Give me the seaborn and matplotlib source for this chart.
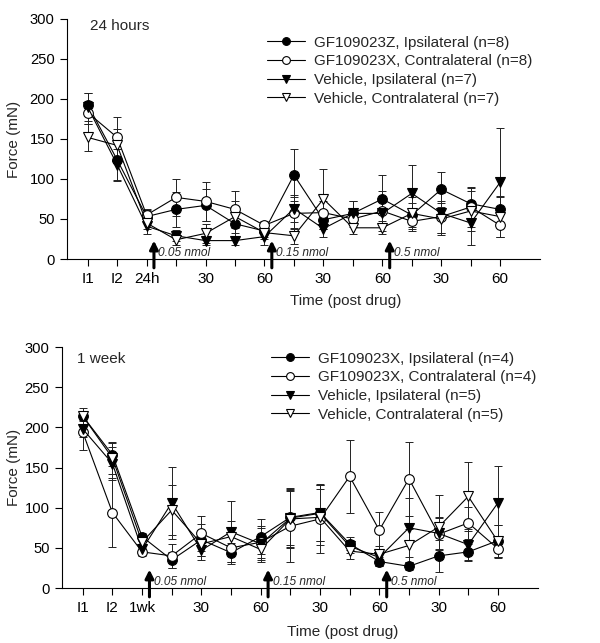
import matplotlib
matplotlib.use("Agg")
import matplotlib.pyplot as plt
import seaborn as sns
import pandas as pd
import numpy as np

# ---------------- data ----------------
x_index = list(range(15))
ticks_top = ["I1", "I2", "24h", "", "30", "", "60", "", "30", "", "60", "", "30", "", "60"]
ticks_bot = ["I1", "I2", "1wk", "", "30", "", "60", "", "30", "", "60", "", "30", "", "60"]

labels_top = ["GF109023Z, Ipsilateral (n=8)", "GF109023X, Contralateral (n=8)",
              "Vehicle, Ipsilateral (n=7)", "Vehicle, Contralateral (n=7)"]
labels_bot = ["GF109023X, Ipsilateral (n=4)", "GF109023X, Contralateral (n=4)",
              "Vehicle, Ipsilateral (n=5)", "Vehicle, Contralateral (n=5)"]

gf_ipsi_24h = [193, 124, 53, 62, 67, 44, 35, 105, 49, 57, 75, 55, 87, 69, 62]
gf_contra_24h = [183, 152, 55, 77, 72, 62, 42, 57, 58, 50, 60, 47, 53, 65, 42]
veh_ipsi_24h = [190, 118, 41, 29, 23, 23, 28, 63, 38, 57, 57, 82, 57, 45, 96]
veh_contra_24h = [152, 142, 45, 24, 32, 53, 33, 29, 75, 39, 39, 57, 50, 60, 53]

gf_ipsi_24h_err = [14, 25, 8, 22, 20, 15, 8, 32, 12, 15, 30, 15, 22, 20, 17]
gf_contra_24h_err = [14, 25, 7, 23, 24, 23, 5, 20, 15, 10, 25, 12, 20, 25, 15]
veh_ipsi_24h_err = [17, 20, 10, 7, 5, 5, 10, 17, 10, 15, 15, 35, 25, 28, 68]
veh_contra_24h_err = [17, 20, 8, 7, 12, 20, 8, 10, 37, 8, 8, 20, 20, 25, 25]

gf_ipsi_1wk = [214, 166, 64, 35, 60, 44, 64, 88, 94, 55, 33, 27, 40, 45, 59]
gf_contra_1wk = [194, 94, 45, 40, 68, 50, 57, 77, 86, 139, 72, 136, 67, 81, 49]
veh_ipsi_1wk = [198, 155, 48, 106, 47, 70, 55, 87, 93, 52, 38, 75, 68, 54, 106]
veh_contra_1wk = [214, 162, 57, 97, 55, 64, 48, 86, 88, 46, 42, 53, 76, 114, 58]

gf_ipsi_1wk_err = [5, 14, 5, 10, 20, 12, 22, 35, 35, 8, 5, 5, 20, 10, 20]
gf_contra_1wk_err = [22, 43, 5, 15, 22, 20, 20, 45, 42, 45, 23, 46, 20, 20, 12]
veh_ipsi_1wk_err = [10, 20, 5, 45, 12, 38, 20, 37, 35, 8, 10, 37, 20, 20, 46]
veh_contra_1wk_err = [10, 20, 5, 31, 15, 20, 15, 35, 35, 10, 10, 20, 40, 43, 20]

doses = ["0.05 nmol", "0.15 nmol", "0.5 nmol"]
dose_pos = [2.25, 6.25, 10.25]

# ---------------- style ----------------
sns.set_style("ticks")
plt.rcParams["font.family"] = ["Liberation Sans", "DejaVu Sans"]
FS = 11
FS_LEG = 11

styles = [
    dict(marker="o", markerfacecolor="black", markeredgecolor="black", markersize=7),
    dict(marker="o", markerfacecolor="white", markeredgecolor="black", markersize=7),
    dict(marker="v", markerfacecolor="black", markeredgecolor="black", markersize=7.5),
    dict(marker="v", markerfacecolor="white", markeredgecolor="black", markersize=7.5),
]

fig = plt.figure(figsize=(6.0, 6.43), dpi=100)
ax_top = fig.add_axes([0.1117, 0.5972, 0.7883, 0.3733])
ax_bot = fig.add_axes([0.1033, 0.0855, 0.7933, 0.3748])


def draw(ax, series, errs, labels, ticks, title, title_xy, leg_xy, xlab_y, ylab_x):
    for i, (vals, err, lab) in enumerate(zip(series, errs, labels)):
        df = pd.DataFrame({"x": x_index, "y": vals})
        ax.errorbar(x_index, vals, yerr=err, fmt="none", ecolor="#222222",
                    elinewidth=0.7, capsize=3, capthick=0.7, zorder=2)
        sns.lineplot(data=df, x="x", y="y", ax=ax, color="black", linewidth=0.8,
                     label=lab, sort=False, zorder=3 + i, markeredgewidth=0.8,
                     **styles[i])
    ax.set_xlim(-0.7, 15.35)
    ax.set_ylim(0, 300)
    ax.set_yticks(range(0, 301, 50))
    ax.set_xticks(x_index)
    ax.set_xticklabels(ticks)
    ax.tick_params(axis="both", direction="out", length=5, width=0.8, pad=4.5,
                   labelsize=FS, color="black", labelcolor="black")
    ax.tick_params(axis="y", labelsize=10.6, pad=4)
    for s in ["top", "right"]:
        ax.spines[s].set_visible(False)
    for s in ["left", "bottom"]:
        ax.spines[s].set_linewidth(0.8)
        ax.spines[s].set_color("black")
    ax.set_ylabel("Force (mN)", fontsize=FS)
    ax.set_xlabel("Time (post drug)", fontsize=FS)
    ax.xaxis.set_label_coords(0.59, xlab_y)
    ax.yaxis.set_label_coords(ylab_x, 0.5)
    ax.text(title_xy[0], title_xy[1], title, fontsize=FS, va="center", ha="left")
    for d, p in zip(doses, dose_pos):
        ax.annotate("", xy=(p, 23), xytext=(p, -11), annotation_clip=False,
                    arrowprops=dict(arrowstyle="-|>,head_length=0.5,head_width=0.25",
                                    lw=2.2, color="black", shrinkA=0, shrinkB=0))
        ax.text(p + 0.15, 7, d, fontsize=8.6, style="italic", va="center", ha="left")
    ax.legend(loc="upper left", bbox_to_anchor=leg_xy, frameon=False,
              fontsize=FS_LEG, borderpad=0, borderaxespad=0, labelspacing=0.3,
              handlelength=2.5, handletextpad=0.6, numpoints=1, markerscale=0.8)


draw(ax_top, [gf_ipsi_24h, gf_contra_24h, veh_ipsi_24h, veh_contra_24h],
     [gf_ipsi_24h_err, gf_contra_24h_err, veh_ipsi_24h_err, veh_contra_24h_err],
     labels_top, ticks_top, "24 hours", (0.09, 291), (0.423, 0.93), -0.145, -0.097)
draw(ax_bot, [gf_ipsi_1wk, gf_contra_1wk, veh_ipsi_1wk, veh_contra_1wk],
     [gf_ipsi_1wk_err, gf_contra_1wk_err, veh_ipsi_1wk_err, veh_contra_1wk_err],
     labels_bot, ticks_bot, "1 week", (-0.2, 285), (0.439, 0.98), -0.155, -0.086)

fig.savefig("out.png", dpi=100)
